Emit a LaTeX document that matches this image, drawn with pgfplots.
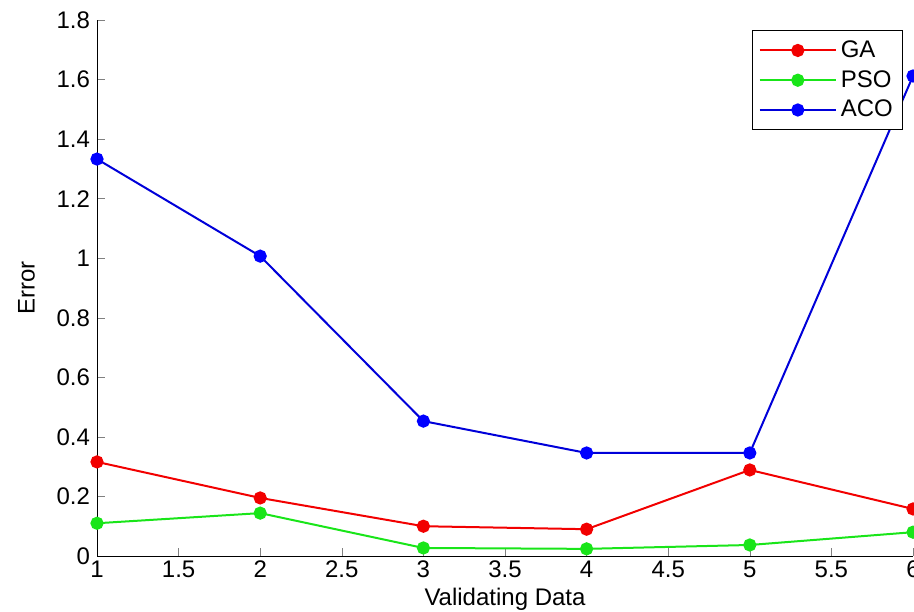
\documentclass[border=0pt]{standalone}
\usepackage{pgfplots}
\pgfplotsset{compat=1.18}
\usepackage{fontspec}
\setmainfont{Liberation Sans}
\definecolor{gared}{rgb}{0.95,0,0}
\definecolor{psogreen}{rgb}{0.1,0.9,0.1}
\definecolor{acoblue}{rgb}{0,0,0.85}
\begin{document}
\begin{tikzpicture}
\begin{axis}[
  name=ax,
  scale only axis,
  width=408pt, height=268pt,
  xmin=1, xmax=6, ymin=0, ymax=1.8,
  axis x line*=bottom, axis y line*=left,
  tick align=inside,
  xtick={1,1.5,...,6}, ytick={0,0.2,...,1.8},
  xticklabels={1,1.5,2,2.5,3,3.5,4,4.5,5,5.5,6},
  yticklabels={0,0.2,0.4,0.6,0.8,1,1.2,1.4,1.6,1.8},
  major tick length=4pt,
  tick label style={font=\fontsize{12}{14}\selectfont},
  xticklabel style={yshift=1pt},
  /pgf/number format/assume math mode=true,
  xlabel={Validating Data}, ylabel={Error},
  label style={font=\fontsize{12}{14}\selectfont},
  xlabel style={yshift=2pt},
  ylabel style={yshift=4pt},
  clip=false,
  legend style={at={(0.988,0.981)}, anchor=north east, draw=black, font=\fontsize{12}{14}\selectfont, row sep=1pt, inner sep=3pt},
  legend cell align=left,
  legend image code/.code={\draw[#1] (0pt,0pt) -- (38pt,0pt); \draw[#1, mark repeat=2, mark phase=2] plot coordinates {(0pt,0pt) (19pt,0pt) (38pt,0pt)};},
  every axis plot/.append style={line width=1pt, mark=*, mark size=2.8pt},
]
\addplot[color=gared, mark options={fill=gared, draw=gared}] coordinates {(1,0.316) (2,0.195) (3,0.100) (4,0.090) (5,0.289) (6,0.158)};
\addlegendentry{GA}
\addplot[color=psogreen, mark options={fill=psogreen, draw=psogreen}] coordinates {(1,0.110) (2,0.144) (3,0.027) (4,0.024) (5,0.037) (6,0.080)};
\addlegendentry{PSO}
\addplot[color=acoblue, mark options={fill=blue, draw=blue}] coordinates {(1,1.333) (2,1.007) (3,0.453) (4,0.346) (5,0.346) (6,1.612)};
\addlegendentry{ACO}
\end{axis}
\pgfresetboundingbox
\useasboundingbox ([shift={(-48.5pt,-27.5pt)}]ax.south west) rectangle ([shift={(0.5pt,10pt)}]ax.north east);
\end{tikzpicture}
\end{document}
